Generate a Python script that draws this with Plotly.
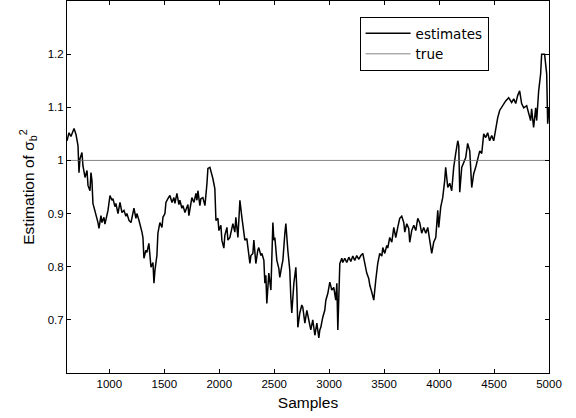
import plotly.graph_objects as go

samples = [615, 633, 651, 679, 697, 715, 724, 733, 751, 760, 779, 797, 806, 824, 833, 842, 851, 879, 897, 906,
           924, 933, 951, 960, 978, 988, 1006, 1024, 1033, 1051, 1060, 1079, 1097, 1115, 1133, 1151, 1160, 1179, 1197, 1215,
           1224, 1242, 1251, 1270, 1279, 1297, 1306, 1315, 1333, 1342, 1360, 1370, 1379, 1397, 1406, 1415, 1433, 1442, 1460, 1479,
           1488, 1506, 1515, 1533, 1551, 1570, 1588, 1597, 1615, 1633, 1642, 1660, 1670, 1688, 1697, 1715, 1724, 1742, 1751, 1770,
           1788, 1797, 1806, 1824, 1833, 1851, 1870, 1888, 1897, 1915, 1933, 1942, 1960, 1970, 1988, 1997, 2015, 2024, 2042, 2051,
           2070, 2079, 2097, 2115, 2124, 2142, 2151, 2170, 2188, 2206, 2224, 2233, 2251, 2260, 2279, 2288, 2306, 2315, 2333, 2351,
           2360, 2379, 2388, 2406, 2415, 2424, 2433, 2451, 2460, 2470, 2488, 2497, 2506, 2524, 2542, 2551, 2570, 2579, 2597, 2606,
           2624, 2642, 2651, 2660, 2679, 2697, 2706, 2715, 2733, 2751, 2760, 2779, 2797, 2815, 2833, 2851, 2870, 2888, 2906, 2915,
           2924, 2942, 2960, 2970, 2988, 3006, 3024, 3042, 3060, 3070, 3079, 3097, 3115, 3124, 3142, 3160, 3179, 3197, 3215, 3233,
           3251, 3270, 3288, 3306, 3315, 3324, 3342, 3360, 3370, 3388, 3406, 3424, 3442, 3460, 3479, 3488, 3506, 3524, 3533, 3551,
           3570, 3588, 3606, 3624, 3642, 3660, 3679, 3688, 3706, 3724, 3733, 3751, 3770, 3788, 3806, 3824, 3842, 3860, 3879, 3897,
           3915, 3933, 3951, 3970, 3988, 3997, 4015, 4033, 4051, 4060, 4079, 4097, 4115, 4133, 4151, 4170, 4179, 4188, 4206, 4224,
           4242, 4260, 4279, 4297, 4315, 4333, 4351, 4370, 4388, 4406, 4424, 4442, 4460, 4479, 4497, 4515, 4533, 4551, 4579, 4606,
           4633, 4660, 4679, 4697, 4715, 4733, 4751, 4770, 4797, 4815, 4833, 4842, 4860, 4879, 4888, 4906, 4924, 4933, 4960, 4979,
           4988, 5000]

estimates = [1.037, 1.052, 1.045, 1.060, 1.049, 1.028, 0.977, 1.003, 1.015, 0.990, 0.968, 0.981, 0.953, 0.943, 0.977, 0.962, 0.919, 0.900, 0.883, 0.872,
             0.896, 0.883, 0.893, 0.880, 0.896, 0.906, 0.934, 0.925, 0.928, 0.913, 0.919, 0.900, 0.921, 0.902, 0.906, 0.895, 0.900, 0.887, 0.883, 0.902,
             0.910, 0.891, 0.900, 0.887, 0.881, 0.865, 0.855, 0.816, 0.831, 0.827, 0.844, 0.816, 0.799, 0.808, 0.769, 0.793, 0.821, 0.863, 0.883, 0.874,
             0.893, 0.900, 0.921, 0.928, 0.934, 0.921, 0.930, 0.919, 0.938, 0.917, 0.925, 0.910, 0.915, 0.902, 0.906, 0.917, 0.896, 0.925, 0.930, 0.921,
             0.938, 0.925, 0.943, 0.915, 0.928, 0.930, 0.915, 0.956, 0.985, 0.987, 0.975, 0.966, 0.947, 0.887, 0.891, 0.868, 0.878, 0.850, 0.835, 0.859,
             0.874, 0.850, 0.855, 0.876, 0.881, 0.865, 0.893, 0.855, 0.925, 0.893, 0.865, 0.850, 0.853, 0.840, 0.806, 0.821, 0.825, 0.850, 0.806, 0.831,
             0.836, 0.821, 0.825, 0.812, 0.769, 0.784, 0.731, 0.788, 0.765, 0.756, 0.883, 0.850, 0.855, 0.812, 0.797, 0.780, 0.803, 0.812, 0.863, 0.881,
             0.831, 0.793, 0.743, 0.713, 0.769, 0.799, 0.756, 0.686, 0.713, 0.728, 0.724, 0.694, 0.718, 0.700, 0.681, 0.700, 0.671, 0.694, 0.666, 0.681,
             0.686, 0.705, 0.718, 0.737, 0.750, 0.771, 0.756, 0.761, 0.737, 0.769, 0.681, 0.806, 0.816, 0.808, 0.816, 0.808, 0.818, 0.810, 0.820, 0.812,
             0.821, 0.814, 0.821, 0.825, 0.816, 0.803, 0.788, 0.778, 0.765, 0.752, 0.737, 0.775, 0.806, 0.825, 0.820, 0.836, 0.825, 0.840, 0.835, 0.855,
             0.846, 0.874, 0.855, 0.874, 0.891, 0.895, 0.883, 0.865, 0.881, 0.872, 0.846, 0.868, 0.878, 0.868, 0.891, 0.883, 0.863, 0.874, 0.863, 0.874,
             0.844, 0.825, 0.846, 0.855, 0.906, 0.874, 0.912, 0.930, 0.962, 0.987, 0.949, 0.957, 0.943, 0.987, 1.013, 1.037, 1.028, 0.940, 0.987, 0.996,
             1.005, 1.032, 1.018, 0.949, 0.975, 0.987, 1.003, 1.018, 1.013, 1.050, 1.043, 1.052, 1.037, 1.047, 1.037, 1.062, 1.080, 1.094, 1.103, 1.112,
             1.118, 1.109, 1.116, 1.107, 1.122, 1.131, 1.107, 1.099, 1.103, 1.090, 1.075, 1.097, 1.062, 1.099, 1.075, 1.131, 1.163, 1.200, 1.200, 1.163,
             1.069, 1.099]

true_samples = [615, 5000]
true_values = [1.0, 1.0]

x_ticks = [1000, 1500, 2000, 2500, 3000, 3500, 4000, 4500, 5000]
y_ticks = [0.7, 0.8, 0.9, 1.0, 1.1, 1.2]
y_tick_labels = ["0.7", "0.8", "0.9", "1", "1.1", "1.2"]

FONT = "Liberation Sans, Arial, sans-serif"
LEGEND_FONT = "DejaVu Sans, sans-serif"

fig = go.Figure()
fig.add_trace(go.Scatter(x=samples, y=estimates, mode="lines", name="estimates",
                         line=dict(color="black", width=1.5)))
fig.add_trace(go.Scatter(x=true_samples, y=true_values, mode="lines", name="true",
                         line=dict(color="#666666", width=0.8)))

axis_common = dict(showline=True, linecolor="black", linewidth=1, mirror="ticks",
                   ticks="inside", ticklen=4, tickcolor="black", showgrid=False,
                   zeroline=False, automargin=False,
                   tickfont=dict(family=FONT, size=11.5, color="black"))

fig.update_layout(
    width=576, height=418,
    margin=dict(l=67, r=27, t=1, b=45),
    paper_bgcolor="white", plot_bgcolor="white",
    font=dict(family=FONT, color="black"),
    xaxis=dict(range=[615, 5000], tickvals=x_ticks,
               title=dict(text="Samples", font=dict(family=FONT, size=15.5), standoff=8),
               **axis_common),
    yaxis=dict(range=[0.6, 1.3], tickvals=y_ticks, ticktext=y_tick_labels,
               title=dict(text="Estimation of σ<sub>b</sub><sup>2</sup>", font=dict(family=FONT, size=15.5), standoff=9),
               **axis_common),
    legend=dict(x=0.607, y=0.957, xanchor="left", yanchor="top",
                bordercolor="black", borderwidth=1, bgcolor="white",
                font=dict(family=LEGEND_FONT, size=13.5), itemwidth=45,
                tracegroupgap=0),
    showlegend=True,
)

fig.write_html("out.html", config={"displayModeBar": False},
               post_script="document.body.style.margin='0';document.body.style.padding='0';")
